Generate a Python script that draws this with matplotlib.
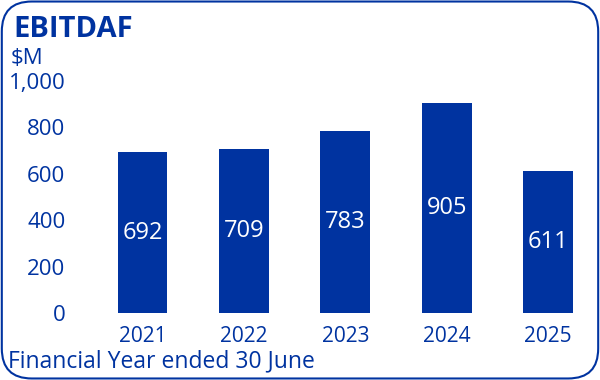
import matplotlib
matplotlib.use("Agg")
import matplotlib.pyplot as plt
from matplotlib.patches import FancyBboxPatch

years = ["2021", "2022", "2023", "2024", "2025"]
ebitdaf = [692, 709, 783, 905, 611]
y_ticks = [0, 200, 400, 600, 800, 1000]

blue = "#0033A0"
plt.rcParams["font.family"] = ["Open Sans", "DejaVu Sans"]

fig = plt.figure(figsize=(6, 3.8), dpi=100)
ax = fig.add_axes([0.153, 0.176, 0.845, 0.611])

x = range(len(years))
bars = ax.bar(x, ebitdaf, width=0.49, color=blue)
for b, v in zip(bars, ebitdaf):
    ax.text(b.get_x() + b.get_width() / 2, v / 2, str(v),
            ha="center", va="center", color="white", fontsize=17)

ax.set_xlim(-0.5, 4.5)
ax.set_ylim(0, 1000)
ax.set_yticks(y_ticks)
ax.set_yticklabels([f"{t:,}" for t in y_ticks])
ax.set_xticks(list(x))
ax.set_xticklabels(years)
ax.tick_params(axis="y", length=0, pad=19, labelsize=16, labelcolor=blue)
ax.tick_params(axis="x", length=0, pad=9, labelsize=15, labelcolor=blue)
for s in ax.spines.values():
    s.set_visible(False)

fig.text(0.022, 0.96, "EBITDAF", fontsize=21, fontweight="bold",
         color=blue, va="top")
fig.text(0.017, 0.845, "$M", fontsize=16, color=blue, va="center")
fig.text(0.013, 0.034, "Financial Year ended 30 June", fontsize=16.5,
         color=blue, va="baseline")

border = FancyBboxPatch((0.003, 0.004), 0.994, 0.992,
                        boxstyle="round,pad=0,rounding_size=0.05",
                        transform=fig.transFigure, fill=False,
                        edgecolor=blue, linewidth=1.5,
                        mutation_aspect=600 / 380)
fig.patches.append(border)

fig.savefig("out.png", dpi=100)
